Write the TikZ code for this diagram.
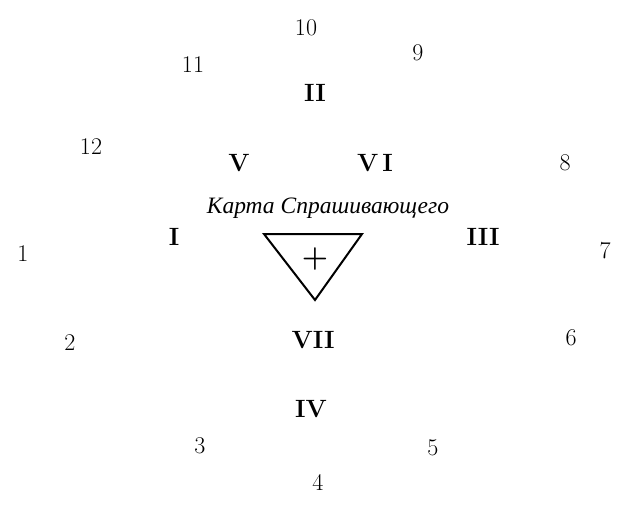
\documentclass[tikz,border=0pt]{standalone}
\usepackage{fontspec}
\newfontfamily\labelfont{Liberation Serif}
\begin{document}
\begin{tikzpicture}[x=1pt,y=-1pt,
  num/.style={font=\fontsize{24}{24}\selectfont, inner sep=0pt, anchor=center},
  rom/.style={font=\fontsize{25}{25}\selectfont\bfseries, inner sep=0pt, anchor=center},
  cardlabel/.style={font=\labelfont\itshape\fontsize{23.5}{23.5}\selectfont, inner sep=0pt},
  tri/.style={draw=black, line width=2pt, line join=miter}]
\useasboundingbox (0,0) rectangle (634,515);
% outer numbers
\node[num] (n10) at (306,28) {10};
\node[num] (n9) at (418,53) {9};
\node[num] (n11) at (193,65) {11};
\node[num] (n12) at (91,147) {12};
\node[num] (n8) at (565,163) {8};
\node[num] (n1) at (23,254) {1};
\node[num] (n7) at (605,251) {7};
\node[num] (n2) at (70,343) {2};
\node[num] (n6) at (571,338) {6};
\node[num] (n3) at (200,446) {3};
\node[num] (n5) at (433,448) {5};
\node[num] (n4) at (318,482) {4};
% roman numerals
\node[rom] (rII) at (315,93) {II};
\node[rom] (rV) at (239,163) {V};
\node[rom] (rVI) at (375,163) {V\,I};
\node[rom] (rI) at (174,237) {I};
\node[rom] (rIII) at (483,237) {III};
\node[rom] (rVII) at (313,340) {VII};
\node[rom] (rIV) at (311,409) {IV};
% card
\node[cardlabel] (lab) at (328,208) {Карта Спрашивающего};
\coordinate (ta) at (264,234);
\coordinate (tb) at (362,234);
\coordinate (tc) at (315,300);
\draw[tri] (ta) -- (tb) -- (tc) -- cycle;
\node[num, font=\fontsize{30}{30}\selectfont\bfseries] (plus) at (315,259) {+};
\end{tikzpicture}
\end{document}
